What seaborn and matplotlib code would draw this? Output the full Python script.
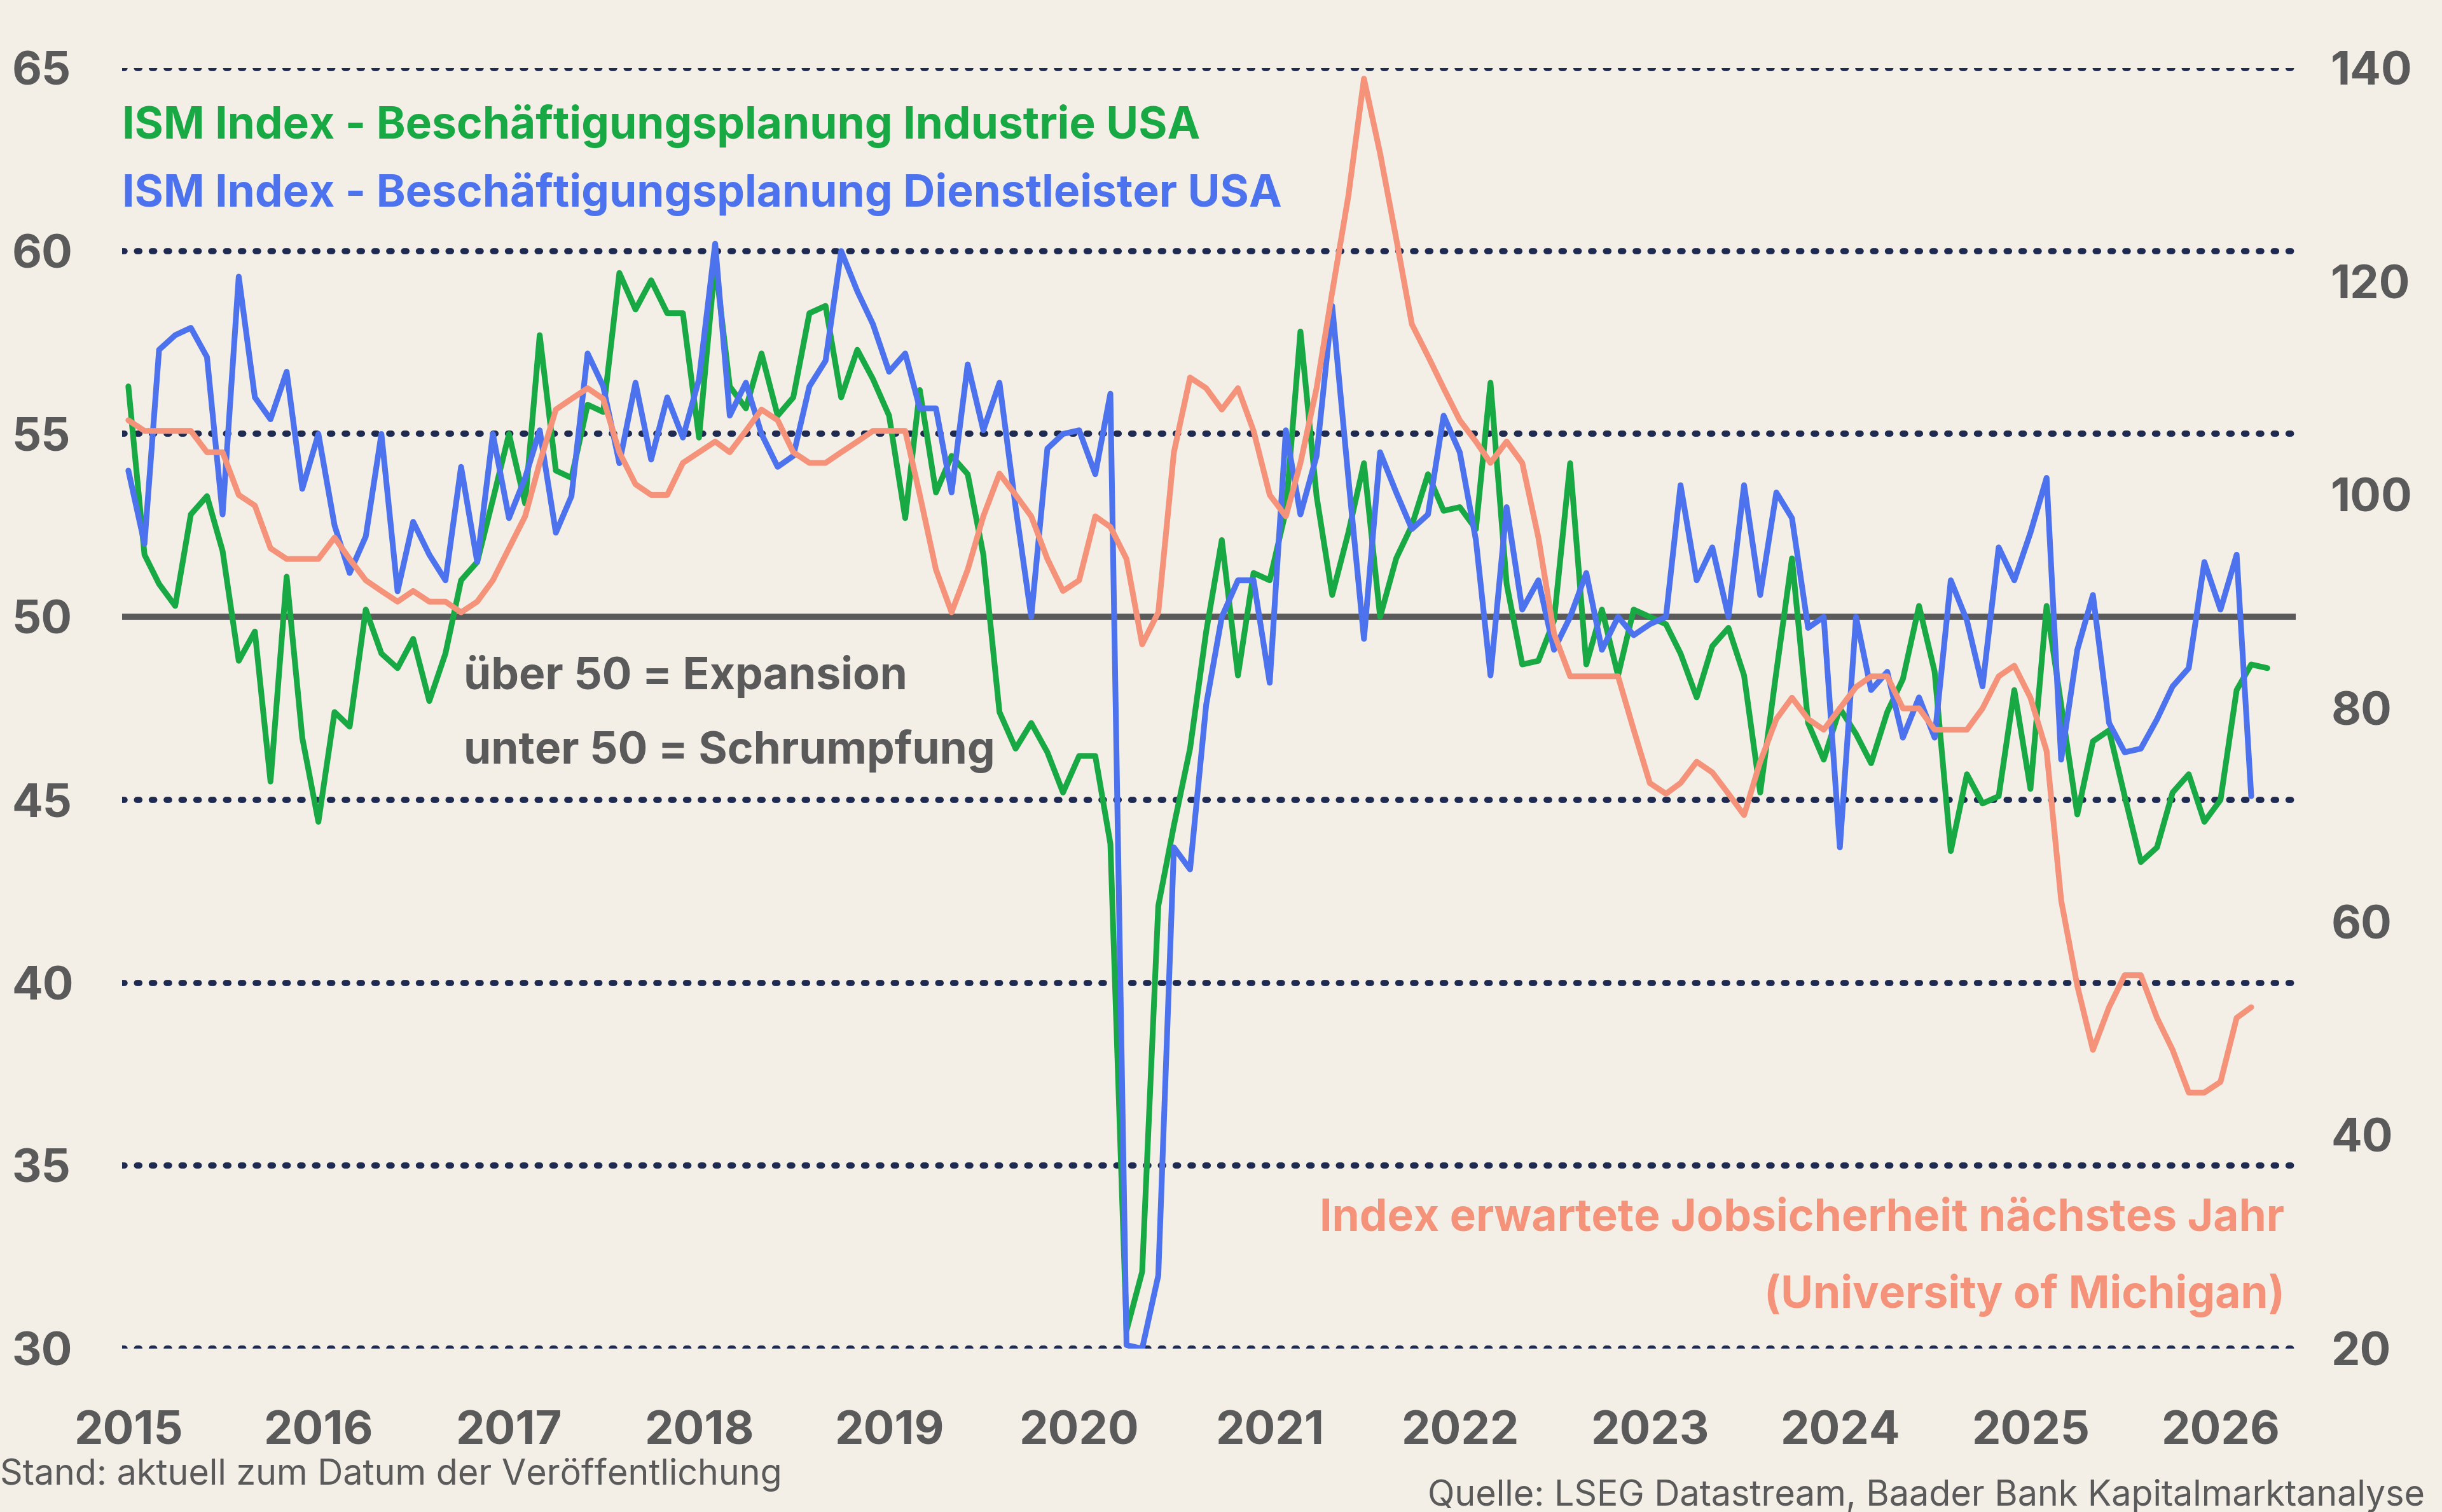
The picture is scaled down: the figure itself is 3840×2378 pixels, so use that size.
import matplotlib
matplotlib.use("Agg")
import matplotlib.pyplot as plt
import matplotlib.dates as mdates
import seaborn as sns
import pandas as pd

# ISM Beschäftigung Industrie, monatlich ab Jan 2015
industrie = [
    56.3, 51.7, 50.9, 50.3, 52.8, 53.3, 51.8, 48.8, 49.6, 45.5, 51.1, 46.7,
    44.4, 47.4, 47.0, 50.2, 49.0, 48.6, 49.4, 47.7, 49.0, 51.0, 51.5, 53.2,
    55.0, 53.1, 57.7, 54.0, 53.8, 55.8, 55.6, 59.4, 58.4, 59.2, 58.3, 58.3,
    54.9, 59.7, 56.3, 55.7, 57.2, 55.5, 56.0, 58.3, 58.5, 56.0, 57.3, 56.5,
    55.5, 52.7, 56.2, 53.4, 54.4, 53.9, 51.7, 47.4, 46.4, 47.1, 46.3, 45.2,
    46.2, 46.2, 43.8, 30.5, 32.1, 42.1, 44.3, 46.4, 49.6, 52.1, 48.4, 51.2,
    51.0, 52.9, 57.8, 53.3, 50.6, 52.3, 54.2, 50.0, 51.6, 52.5, 53.9, 52.9,
    53.0, 52.4, 56.4, 50.9, 48.7, 48.8, 49.9, 54.2, 48.7, 50.2, 48.4, 50.2,
    50.0, 49.8, 49.0, 47.8, 49.2, 49.7, 48.4, 45.2, 48.5, 51.6, 47.1, 46.1,
    47.5, 46.8, 46.0, 47.4, 48.3, 50.3, 48.5, 43.6, 45.7, 44.9, 45.1, 48.0,
    45.3, 50.3, 47.6, 44.6, 46.6, 46.9, 45.1, 43.3, 43.7, 45.2, 45.7, 44.4,
    45.0, 48.0, 48.7, 48.6,
]
# ISM Beschäftigung Dienstleister
dienst = [
    54.0, 52.0, 57.3, 57.7, 57.9, 57.1, 52.8, 59.3, 56.0, 55.4, 56.7, 53.5,
    55.0, 52.5, 51.2, 52.2, 55.0, 50.7, 52.6, 51.7, 51.0, 54.1, 51.5, 55.0,
    52.7, 53.8, 55.1, 52.3, 53.3, 57.2, 56.3, 54.2, 56.4, 54.3, 56.0, 54.9,
    56.5, 60.2, 55.5, 56.4, 55.0, 54.1, 54.4, 56.3, 57.0, 60.0, 58.9, 58.0,
    56.7, 57.2, 55.7, 55.7, 53.4, 56.9, 55.1, 56.4, 53.0, 50.0, 54.6, 55.0,
    55.1, 53.9, 56.1, 30.1, 30.0, 32.0, 43.7, 43.1, 47.6, 50.0, 51.0, 51.0,
    48.2, 55.1, 52.8, 54.4, 58.5, 53.8, 49.4, 54.5, 53.4, 52.4, 52.8, 55.5,
    54.5, 52.1, 48.4, 53.0, 50.2, 51.0, 49.1, 50.0, 51.2, 49.1, 50.0, 49.5,
    49.8, 50.0, 53.6, 51.0, 51.9, 50.0, 53.6, 50.6, 53.4, 52.7, 49.7, 50.0,
    43.7, 50.0, 48.0, 48.5, 46.7, 47.8, 46.7, 51.0, 49.9, 48.1, 51.9, 51.0,
    52.3, 53.8, 46.1, 49.1, 50.6, 47.1, 46.3, 46.4, 47.2, 48.1, 48.6, 51.5,
    50.2, 51.7, 45.1,
]
# Index erwartete Jobsicherheit (University of Michigan), rechte Achse
jobsicherheit = [
    107, 106, 106, 106, 106, 104, 104, 100, 99, 95, 94, 94,
    94, 96, 94, 92, 91, 90, 91, 90, 90, 89, 90, 92,
    95, 98, 103, 108, 109, 110, 109, 104, 101, 100, 100, 103,
    104, 105, 104, 106, 108, 107, 104, 103, 103, 104, 105, 106,
    106, 106, 100, 93, 89, 93, 98, 102, 100, 98, 94, 91,
    92, 98, 97, 94, 86, 89, 104, 111, 110, 108, 110, 106,
    100, 98, 103, 110, 119, 128, 139, 132, 124, 116, 113, 110,
    107, 105, 103, 105, 103, 96, 87, 83, 83, 83, 83, 78,
    73, 72, 73, 75, 74, 72, 70, 75, 79, 81, 79, 78,
    80, 82, 83, 83, 80, 80, 78, 78, 78, 80, 83, 84,
    81, 76, 62, 54, 48, 52, 55, 55, 51, 48, 44, 44,
    45, 51, 52,
]

BG = "#F3EFE7"
GREEN = "#18A944"
BLUE = "#4D72EE"
ORANGE = "#F5927A"
GREY = "#5A5A5A"
NAVY = "#1E2A4F"

sns.set_theme(style="white")
plt.rcParams["font.family"] = ["Inter", "DejaVu Sans"]

def frame(values):
    return pd.DataFrame({"datum": pd.date_range("2015-01-01", periods=len(values), freq="MS"),
                         "wert": values})

fig = plt.figure(figsize=(38.4, 23.78), dpi=100, facecolor=BG)
ax = fig.add_axes([0.05, 0.108, 0.89, 0.847], facecolor=BG)
ax2 = ax.twinx()

for y in range(30, 66, 5):
    if y != 50:
        ax.axhline(y, color=NAVY, lw=7, ls=(0, (0.4, 2.0)), dash_capstyle="round", zorder=0)
ax.axhline(50, color=GREY, lw=7, zorder=1)

sns.lineplot(data=frame(industrie), x="datum", y="wert", ax=ax, color=GREEN, lw=6.5, zorder=3)
sns.lineplot(data=frame(dienst), x="datum", y="wert", ax=ax, color=BLUE, lw=6.5, zorder=4)
sns.lineplot(data=frame(jobsicherheit), x="datum", y="wert", ax=ax2, color=ORANGE, lw=6.5, zorder=2)

xmin, xmax = pd.Timestamp("2014-12-20"), pd.Timestamp("2026-05-25")
ax.set_xlim(xmin, xmax)
ax.set_ylim(30, 65)
ax2.set_ylim(20, 140)
ax.set_yticks(range(30, 66, 5))
ax2.set_yticks(range(20, 141, 20))
ax.xaxis.set_major_locator(mdates.YearLocator())
ax.xaxis.set_major_formatter(mdates.DateFormatter("%Y"))

for a in (ax, ax2):
    a.set_xlabel("")
    a.set_ylabel("")
    for s in a.spines.values():
        s.set_visible(False)
    a.tick_params(length=0, labelsize=52, labelcolor=GREY)
ax2.tick_params(axis="y", pad=40)
ax.tick_params(axis="x", pad=70)
for lab in ax.get_xticklabels() + ax.get_yticklabels() + ax2.get_yticklabels():
    lab.set_fontweight("bold")
for lab in ax.get_yticklabels():
    lab.set_horizontalalignment("left")
ax.tick_params(axis="y", pad=125)

kw = dict(transform=ax.transAxes, fontsize=50, fontweight="bold")
ax.text(0.0, 0.945, "ISM Index - Beschäftigungsplanung Industrie USA", color=GREEN, **kw)
ax.text(0.0, 0.892, "ISM Index - Beschäftigungsplanung Dienstleister USA", color=BLUE, **kw)
ax.text(0.157, 0.515, "über 50 = Expansion", color=GREY, **kw)
ax.text(0.157, 0.457, "unter 50 = Schrumpfung", color=GREY, **kw)
ax.text(0.995, 0.092, "Index erwartete Jobsicherheit nächstes Jahr", color=ORANGE, ha="right", **kw)
ax.text(0.995, 0.032, "(University of Michigan)", color=ORANGE, ha="right", **kw)

fig.text(0.0, 0.018, "Stand: aktuell zum Datum der Veröffentlichung", fontsize=40, color=GREY)
fig.text(0.993, 0.004, "Quelle: LSEG Datastream, Baader Bank Kapitalmarktanalyse",
         fontsize=40, color=GREY, ha="right")

fig.savefig("out.png", dpi=100, facecolor=BG)
